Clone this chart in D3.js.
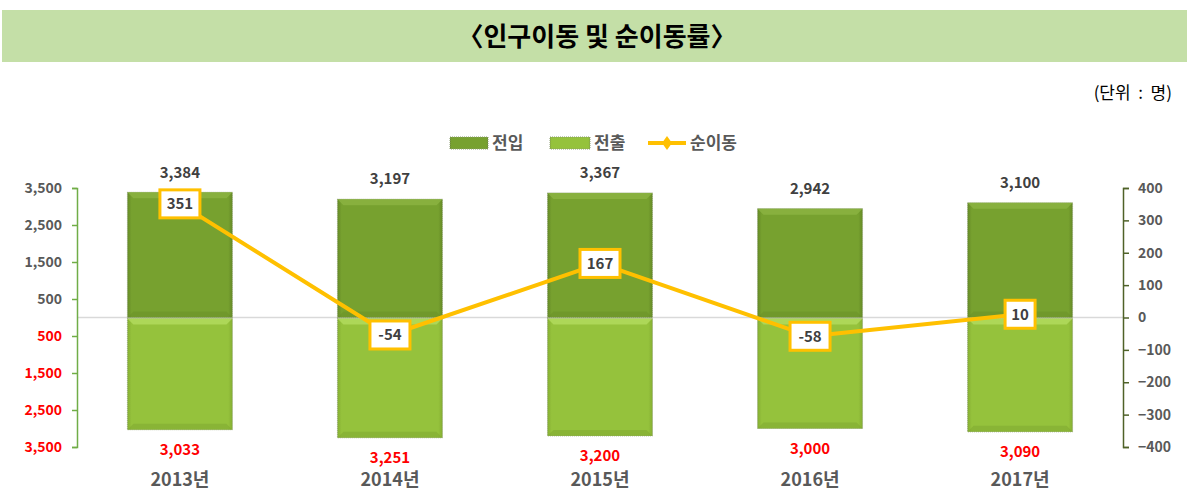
<!DOCTYPE html>
<html>
<head>
<meta charset="utf-8">
<script src="https://cdn.jsdelivr.net/npm/d3@7"></script>
<style>
  body { margin: 0; background: #fff; }
  text { font-family: "Noto Sans CJK KR", "Noto Sans", sans-serif; }
</style>
</head>
<body>
<div id="chart"></div>
<script>
// Data
var years = ["2013년", "2014년", "2015년", "2016년", "2017년"];
var inflow = [3384, 3197, 3367, 2942, 3100];     // 전입
var outflow = [3033, 3251, 3200, 3000, 3090];    // 전출
var netMove = [351, -54, 167, -58, 10];          // 순이동
var leftTicks = [3500, 2500, 1500, 500, -500, -1500, -2500, -3500];
var rightTicks = [400, 300, 200, 100, 0, -100, -200, -300, -400];

var width = 1187, height = 494;
var plot = {left: 77, right: 1123, top: 188, bottom: 447};

var svg = d3.select("#chart").append("svg")
    .attr("width", width)
    .attr("height", height);

var defs = svg.append("defs");

// bar gradients (slight bevel look)
function barGrad(id, edge, mid) {
    var g = defs.append("linearGradient").attr("id", id)
        .attr("x1", "0").attr("x2", "1").attr("y1", "0").attr("y2", "0");
    g.append("stop").attr("offset", "0").attr("stop-color", edge);
    g.append("stop").attr("offset", "0.04").attr("stop-color", mid);
    g.append("stop").attr("offset", "0.96").attr("stop-color", mid);
    g.append("stop").attr("offset", "1").attr("stop-color", edge);
}
barGrad("gIn", "#658a26", "#77a12f");
barGrad("gOut", "#85ae32", "#95c23c");

// Title band
svg.append("rect")
    .attr("x", 2).attr("y", 10)
    .attr("width", width - 2).attr("height", 52)
    .attr("fill", "#c4dfa7");
svg.append("text")
    .attr("x", 597).attr("y", 37)
    .attr("dy", "0.35em")
    .attr("text-anchor", "middle")
    .style("font-size", "26px").style("font-weight", "bold")
    .attr("fill", "#000")
    .text("〈인구이동 및 순이동률〉");

svg.append("text")
    .attr("x", 1172).attr("y", 93)
    .attr("dy", "0.35em")
    .attr("text-anchor", "end")
    .attr("xml:space", "preserve")
    .style("white-space", "pre")
    .style("font-size", "17px")
    .attr("fill", "#000")
    .text("(단위  :  명)");

// Scales
var x = d3.scaleBand()
    .domain(years)
    .range([plot.left, plot.right])
    .paddingInner(0.5)
    .paddingOuter(0.24);

var yL = d3.scaleLinear().domain([-3500, 3500]).range([plot.bottom, plot.top]);
var yR = d3.scaleLinear().domain([-400, 400]).range([plot.bottom, plot.top]);

// zero line
svg.append("line")
    .attr("x1", plot.left).attr("x2", plot.right)
    .attr("y1", yL(0)).attr("y2", yL(0))
    .attr("stroke", "#d9d9d9").attr("stroke-width", 1.5);

// Left axis
var axL = svg.append("g")
    .attr("transform", "translate(" + plot.left + ",0)")
    .call(d3.axisLeft(yL).tickValues(leftTicks).tickSize(5).tickPadding(10)
        .tickFormat(d => d3.format(",")(Math.abs(d))));
axL.select(".domain").attr("stroke", "#70ad47").attr("stroke-width", 1.5);
axL.selectAll(".tick line").attr("stroke", "#70ad47").attr("stroke-width", 1.5);
axL.selectAll(".tick text")
    .style("font-size", "14px").style("font-weight", "bold")
    .attr("fill", d => d < 0 ? "#ff0000" : "#595959");

// Right axis
var axR = svg.append("g")
    .attr("transform", "translate(" + plot.right + ",0)")
    .call(d3.axisRight(yR).tickValues(rightTicks).tickSize(6).tickPadding(9));
axR.select(".domain").attr("stroke", "#4f6228").attr("stroke-width", 1.5);
axR.selectAll(".tick line").attr("stroke", "#4f6228").attr("stroke-width", 1.5);
axR.selectAll(".tick text")
    .style("font-size", "14px").style("font-weight", "bold")
    .attr("fill", "#595959");

// Bars
function drawBar(g, x0, w, y0, y1, fill, light, up) {
    var top = Math.min(y0, y1), h = Math.abs(y1 - y0);
    var b = 6;
    g.append("rect")
        .attr("x", x0).attr("y", top)
        .attr("width", w).attr("height", h)
        .attr("fill", fill)
        .attr("stroke", "#8a9a70").attr("stroke-width", 0.8)
        .attr("stroke-dasharray", "1,1");
    // bevel highlight at the top edge
    g.append("path")
        .attr("d", "M" + x0 + "," + top + "h" + w + "l-" + b + "," + b + "h-" + (w - 2 * b) + "z")
        .attr("fill", light).attr("opacity", 0.75);
    // soft shade at the bottom edge
    g.append("path")
        .attr("d", "M" + x0 + "," + (top + h) + "h" + w + "l-" + b + ",-" + b + "h-" + (w - 2 * b) + "z")
        .attr("fill", up ? "#5f8424" : "#7ea62f").attr("opacity", up ? 0.3 : 0.5);
}

var bars = svg.append("g");
years.forEach(function (yr, i) {
    drawBar(bars, x(yr), x.bandwidth(), yL(0), yL(inflow[i]), "url(#gIn)", "#8db544", true);
    drawBar(bars, x(yr), x.bandwidth(), yL(0) + 1, yL(-outflow[i]), "url(#gOut)", "#b5dd62", false);
});

// Bar value labels
svg.append("g").selectAll("text")
    .data(inflow)
    .join("text")
    .attr("x", (d, i) => x(years[i]) + x.bandwidth() / 2)
    .attr("y", d => yL(d) - 20)
    .attr("dy", "0.35em")
    .attr("text-anchor", "middle")
    .style("font-size", "15px").style("font-weight", "bold")
    .attr("fill", "#404040")
    .text(d => d3.format(",")(d));

svg.append("g").selectAll("text")
    .data(outflow)
    .join("text")
    .attr("x", (d, i) => x(years[i]) + x.bandwidth() / 2)
    .attr("y", d => yL(-d) + 20)
    .attr("dy", "0.35em")
    .attr("text-anchor", "middle")
    .style("font-size", "15px").style("font-weight", "bold")
    .attr("fill", "#ff0000")
    .text(d => d3.format(",")(d));

// Category labels
svg.append("g").selectAll("text")
    .data(years)
    .join("text")
    .attr("x", d => x(d) + x.bandwidth() / 2)
    .attr("y", 480)
    .attr("dy", "0.35em")
    .attr("text-anchor", "middle")
    .style("font-size", "18px").style("font-weight", "bold")
    .attr("fill", "#595959")
    .text(d => d);

// Net migration line
var line = d3.line()
    .x((d, i) => x(years[i]) + x.bandwidth() / 2)
    .y(d => yR(d));

svg.append("path")
    .datum(netMove)
    .attr("d", line)
    .attr("fill", "none")
    .attr("stroke", "#ffc000")
    .attr("stroke-width", 4)
    .attr("stroke-linejoin", "round");

var pts = svg.append("g").selectAll("g")
    .data(netMove)
    .join("g")
    .attr("transform", (d, i) => "translate(" + (x(years[i]) + x.bandwidth() / 2) + "," + yR(d) + ")");

pts.append("rect")
    .attr("x", d => -(String(d).length * 5 + 5))
    .attr("y", -14)
    .attr("width", d => String(d).length * 10 + 10)
    .attr("height", 28)
    .attr("fill", "#fff")
    .attr("stroke", "#ffc000")
    .attr("stroke-width", 3);

pts.append("text")
    .attr("dy", "0.35em")
    .attr("text-anchor", "middle")
    .style("font-size", "15px").style("font-weight", "bold")
    .attr("fill", "#404040")
    .text(d => d);

// Legend
var lg = svg.append("g").attr("transform", "translate(0,143)");
lg.append("rect").attr("x", 450).attr("y", -6).attr("width", 38).attr("height", 12)
    .attr("fill", "url(#gIn)").attr("stroke", "#8a9a70").attr("stroke-dasharray", "1,1");
lg.append("text").attr("x", 492).attr("dy", "0.35em")
    .style("font-size", "17px").style("font-weight", "bold").attr("fill", "#595959").text("전입");
lg.append("rect").attr("x", 550).attr("y", -6).attr("width", 40).attr("height", 12)
    .attr("fill", "url(#gOut)").attr("stroke", "#8a9a70").attr("stroke-dasharray", "1,1");
lg.append("text").attr("x", 594).attr("dy", "0.35em")
    .style("font-size", "17px").style("font-weight", "bold").attr("fill", "#595959").text("전출");
lg.append("line").attr("x1", 648).attr("x2", 686)
    .attr("stroke", "#ffc000").attr("stroke-width", 4);
lg.append("path").attr("d", "M667,-7L672,0L667,7L662,0Z").attr("fill", "#ffc000");
lg.append("text").attr("x", 690).attr("dy", "0.35em")
    .style("font-size", "17px").style("font-weight", "bold").attr("fill", "#595959").text("순이동");
</script>
</body>
</html>
